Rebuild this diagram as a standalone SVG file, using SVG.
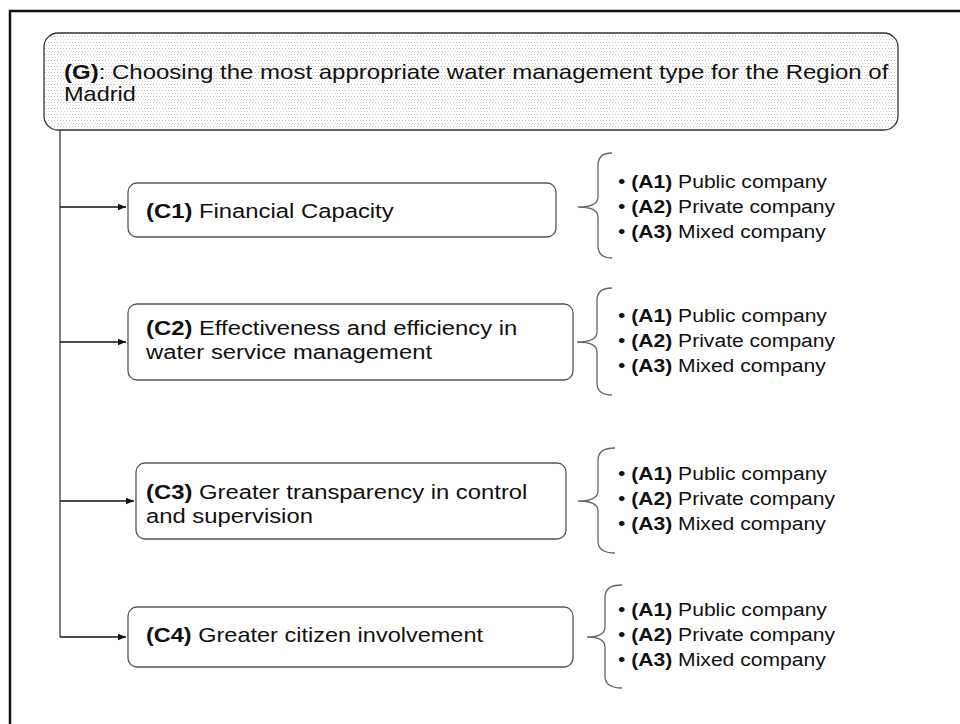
<svg xmlns="http://www.w3.org/2000/svg" width="960" height="724" viewBox="0 0 960 724">
  <style>
    text { font-family: "Liberation Sans", Arial, sans-serif; fill: #111; }
    .b { font-weight: bold; }
    .g { font-size: 21px; }
    .c { font-size: 21px; }
    .a { font-size: 19px; }
    .box { fill: #fff; stroke: #555; stroke-width: 1.3; }
    .brace { fill: none; stroke: #666; stroke-width: 1.3; }
    .link { fill: none; stroke: #111; stroke-width: 1.5; }
  </style>
  <defs>
    <pattern id="dots" width="3" height="6" patternUnits="userSpaceOnUse">
      <rect x="0" y="0" width="1" height="1" fill="#bdbdbd"/>
      <rect x="1" y="3" width="1" height="1" fill="#d6d6d6"/>
    </pattern>
    <marker id="arrow" viewBox="0 0 10 10" refX="10" refY="5" markerWidth="8" markerHeight="8" markerUnits="userSpaceOnUse" orient="auto">
      <path d="M0,1 L10,5 L0,9 Z" fill="#111"/>
    </marker>
  </defs>

  <rect width="960" height="724" fill="#fff"/>

  <!-- outer frame -->
  <path d="M10,724 V11 H960" fill="none" stroke="#111" stroke-width="2.5"/>

  <!-- connectors -->
  <g id="connectors">
    <path d="M60,130 V637" fill="none" stroke="#555" stroke-width="1.5"/>
    <path class="link" d="M60,207 H126" marker-end="url(#arrow)"/>
    <path class="link" d="M60,342 H126" marker-end="url(#arrow)"/>
    <path class="link" d="M60,501 H134" marker-end="url(#arrow)"/>
    <path class="link" d="M60,637 H126" marker-end="url(#arrow)"/>
  </g>

  <!-- goal -->
  <g id="goal">
    <rect x="44" y="33" width="854" height="97" rx="14" fill="#fff" stroke="#333" stroke-width="1.3"/>
    <rect x="45" y="34" width="852" height="95" rx="13" fill="url(#dots)"/>
    <text class="g" transform="matrix(1.143 0 0 1 64 79)"><tspan class="b">(G)</tspan>: Choosing the most appropriate water management type for the Region of</text>
    <text class="g" transform="matrix(1.12 0 0 1 64 101)">Madrid</text>
  </g>

  <!-- criteria -->
  <g id="c1">
    <rect class="box" x="128" y="183" width="428" height="54" rx="9"/>
    <text class="c" transform="matrix(1.135 0 0 1 146 218)"><tspan class="b">(C1)</tspan> Financial Capacity</text>
  </g>
  <g id="c2">
    <rect class="box" x="128" y="304" width="445" height="76" rx="9"/>
    <text class="c" transform="matrix(1.135 0 0 1 146 335)"><tspan class="b">(C2)</tspan> Effectiveness and efficiency in</text>
    <text class="c" transform="matrix(1.135 0 0 1 146 359)">water service management</text>
  </g>
  <g id="c3">
    <rect class="box" x="136" y="463" width="430" height="76" rx="9"/>
    <text class="c" transform="matrix(1.135 0 0 1 146 499)"><tspan class="b">(C3)</tspan> Greater transparency in control</text>
    <text class="c" transform="matrix(1.135 0 0 1 146 523)">and supervision</text>
  </g>
  <g id="c4">
    <rect class="box" x="128" y="607" width="445" height="60" rx="9"/>
    <text class="c" transform="matrix(1.12 0 0 1 146 642)"><tspan class="b">(C4)</tspan> Greater citizen involvement</text>
  </g>

  <!-- alternatives -->
  <g id="alt1">
    <path class="brace" d="M612,153 Q598,153 598,165 V197 Q598,207 578,207 Q598,207 598,217 V246 Q598,258 612,258"/>
    <text class="a" transform="matrix(1.11 0 0 1 618 188)">• <tspan class="b">(A1)</tspan> Public company</text>
    <text class="a" transform="matrix(1.11 0 0 1 618 213)">• <tspan class="b">(A2)</tspan> Private company</text>
    <text class="a" transform="matrix(1.11 0 0 1 618 238)">• <tspan class="b">(A3)</tspan> Mixed company</text>
  </g>
  <g id="alt2">
    <path class="brace" d="M612,288 Q597,288 597,300 V332 Q597,342 577,342 Q597,342 597,352 V383 Q597,395 612,395"/>
    <text class="a" transform="matrix(1.11 0 0 1 618 322)">• <tspan class="b">(A1)</tspan> Public company</text>
    <text class="a" transform="matrix(1.11 0 0 1 618 347)">• <tspan class="b">(A2)</tspan> Private company</text>
    <text class="a" transform="matrix(1.11 0 0 1 618 372)">• <tspan class="b">(A3)</tspan> Mixed company</text>
  </g>
  <g id="alt3">
    <path class="brace" d="M615,448 Q598,448 598,460 V491 Q598,501 578,501 Q598,501 598,511 V541 Q598,553 615,553"/>
    <text class="a" transform="matrix(1.11 0 0 1 618 480)">• <tspan class="b">(A1)</tspan> Public company</text>
    <text class="a" transform="matrix(1.11 0 0 1 618 505)">• <tspan class="b">(A2)</tspan> Private company</text>
    <text class="a" transform="matrix(1.11 0 0 1 618 530)">• <tspan class="b">(A3)</tspan> Mixed company</text>
  </g>
  <g id="alt4">
    <path class="brace" d="M622,585 Q605,585 605,597 V627 Q605,637 587,637 Q605,637 605,647 V676 Q605,688 622,688"/>
    <text class="a" transform="matrix(1.11 0 0 1 618 616)">• <tspan class="b">(A1)</tspan> Public company</text>
    <text class="a" transform="matrix(1.11 0 0 1 618 641)">• <tspan class="b">(A2)</tspan> Private company</text>
    <text class="a" transform="matrix(1.11 0 0 1 618 666)">• <tspan class="b">(A3)</tspan> Mixed company</text>
  </g>
</svg>
